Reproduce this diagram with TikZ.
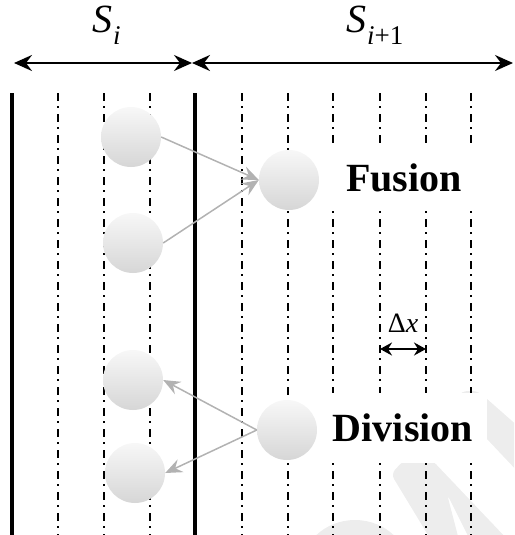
\documentclass[tikz,border=0pt]{standalone}
\usepackage{fontspec}
\setmainfont{Liberation Serif}
\usetikzlibrary{arrows.meta}

\begin{document}
\begin{tikzpicture}[x=1pt,y=-1pt,
 grid/.style={line width=1.9pt,dash pattern=on 8pt off 5pt on 2pt off 6pt},
 wall/.style={line width=3.2pt},
 ball/.style={circle,minimum size=60pt,inner sep=0pt,top color=gray!6,bottom color=gray!32,draw=none},
 flow/.style={-{Stealth[length=17pt,width=14pt,inset=6pt]},draw=black!30,line width=1.5pt},
 span/.style={{Stealth[length=18pt,width=16pt,inset=6pt]}-{Stealth[length=18pt,width=16pt,inset=6pt]},line width=2.2pt},
 small/.style={{Stealth[length=12pt,width=13pt,inset=4pt]}-{Stealth[length=12pt,width=13pt,inset=4pt]},line width=2pt},
 lab/.style={fill=white,font=\fontsize{40}{40}\selectfont\bfseries,inner ysep=0pt},
 sec/.style={anchor=base west,inner sep=0pt,font=\fontsize{40}{40}\selectfont\itshape}]
\useasboundingbox (0,0) rectangle (514,535);
% faint watermark strokes
\begin{scope}
\clip (0,0) rectangle (514,535);
\fill[gray!14,rounded corners=6pt] (452,402) -- (462,391) -- (478,391) -- (520,428) -- (520,474) -- cycle;
\fill[gray!14,rounded corners=6pt] (391,474) -- (404,460) -- (432,460) -- (508,540) -- (470,540)
  -- (447,494) -- (459,540) -- (431,540) -- cycle;
\fill[gray!14] (355,572) ellipse (55 and 52);
\end{scope}
% cells
\foreach \x in {58,104,150,242,288,333,380,426,471}
  \draw[grid] (\x,93) -- (\x,536);
\draw[wall] (12,93) -- (12,536);
\draw[wall,line width=4pt] (195,93) -- (195,536);
% particles
\node[ball] (c1) at (131,137) {};
\node[ball] (c2) at (133,243) {};
\node[ball] (fu) at (289,180) {};
\node[ball] (c4) at (133,380) {};
\node[ball] (c5) at (135,473) {};
\node[ball] (dv) at (287,430) {};
\draw[flow] (c1.east) -- (fu.west);
\draw[flow] (c2.east) -- (fu.west);
\draw[flow] (dv.west) -- (c4.east);
\draw[flow] (dv.west) -- (c5.east);
\node[lab,inner xsep=17pt,minimum height=65pt] (tfu) at (404,178) {Fusion};
\node[lab,minimum width=162pt,minimum height=70pt] (tdv) at (406,428) {\hspace*{-6pt}Division};
% sections
\coordinate (tl) at (14,63);
\coordinate (tm) at (192,63);
\coordinate (tr) at (513,63);
\draw[span] (tl) -- (tm);
\draw[span] (tm) -- (tr);
\node[sec] (si) at (92,33) {S\kern1pt\raisebox{-12pt}{\fontsize{27}{27}\selectfont i}};
\node[sec] (sj) at (346,33) {S\kern1pt\raisebox{-12pt}{\fontsize{27}{27}\selectfont i\upshape +1}};
% cell width
\coordinate (dxl) at (380,349);
\coordinate (dxr) at (426,349);
\draw[small] (dxl) -- node[above=16pt,inner sep=0pt,font=\fontsize{28}{28}\selectfont] (dx) {Δ\textit{x}} (dxr);
\end{tikzpicture}
\end{document}
